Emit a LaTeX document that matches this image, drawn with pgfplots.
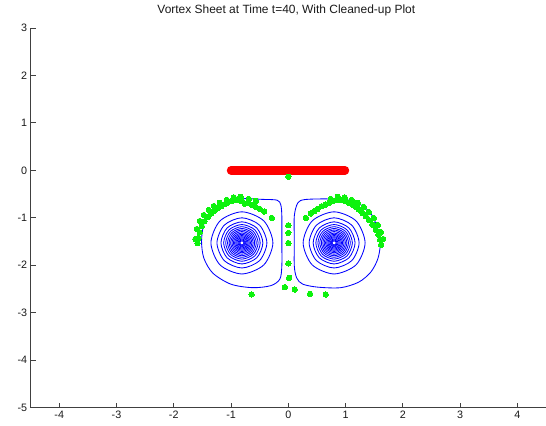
\documentclass[border=0pt]{standalone}
\usepackage{pgfplots}
\pgfplotsset{compat=1.18}
\usepackage{fontspec}
\setmainfont{Liberation Sans}
\definecolor{mred}{rgb}{1,0,0}
\definecolor{mgreen}{rgb}{0.05,0.95,0.05}
\definecolor{mblue}{rgb}{0,0,1}
% #1 cx, #2 x right, #3 x left, #4 x diag right, #5 x diag left, #6 y top, #7 y bottom, #8 y diag up, #9 y diag down
\newcommand\ring[9]{\addplot[mblue, line width=0.85bp, smooth cycle] coordinates {(#2,-1.53) (#4,#8) (#1,#6) (#5,#8) (#3,-1.53) (#5,#9) (#1,#7) (#4,#9)};}
\begin{document}
\begin{tikzpicture}
\useasboundingbox (0,0) rectangle (546bp,426bp);
\begin{axis}[
  at={(30.6bp,18.5bp)}, anchor=south west, scale only axis,
  width=515.4bp, height=379.5bp,
  xmin=-4.5, xmax=4.5, ymin=-5, ymax=3,
  axis x line*=bottom, axis y line*=left,
  axis line style={black!75, line width=0.9bp, -},
  xtick={-4,-3,-2,-1,0,1,2,3,4}, ytick={-5,-4,-3,-2,-1,0,1,2,3},
  tick align=inside, major tick length=5bp,
  tick style={black!75, line width=0.9bp},
  ticklabel style={font=\fontsize{10.8}{12}\selectfont, text=black!90},
  /pgf/number format/assume math mode=true,
  title={Vortex Sheet at Time t=40, With Cleaned-up Plot},
  title style={font=\fontsize{12}{14}\selectfont, text=black!90, at={(0.5,1)}, anchor=base, yshift=8.8bp, xshift=-2bp},
]
% outer contours
\addplot[mblue, line width=0.85bp, smooth cycle, tension=0.5] coordinates {
(-0.834,-0.603) (-0.445,-0.613) (-0.195,-0.630) (-0.131,-0.729) (-0.113,-0.962)
(-0.113,-1.490) (-0.113,-2.019) (-0.148,-2.294) (-0.305,-2.431) (-0.625,-2.474)
(-1.003,-2.400) (-1.318,-2.167) (-1.475,-1.850) (-1.515,-1.490) (-1.475,-1.131)
(-1.370,-0.899) (-1.178,-0.729)};
\addplot[mblue, line width=0.85bp, smooth cycle, tension=0.5] coordinates {
(0.166,-0.687) (0.288,-0.617) (0.654,-0.603) (1.038,-0.624) (1.300,-0.751)
(1.457,-0.941) (1.562,-1.237) (1.606,-1.554) (1.562,-1.871) (1.440,-2.146)
(1.230,-2.357) (0.916,-2.474) (0.515,-2.463) (0.253,-2.400) (0.148,-2.273)
(0.105,-2.019) (0.105,-1.490) (0.105,-0.962)};
% left vortex rings
\ring{-0.81}{-0.269}{-1.351}{-0.427}{-1.193}{-0.875}{-2.185}{-1.067}{-1.993}
\ring{-0.81}{-0.374}{-1.246}{-0.502}{-1.118}{-1.001}{-2.059}{-1.156}{-1.904}
\ring{-0.81}{-0.444}{-1.176}{-0.551}{-1.069}{-1.086}{-1.974}{-1.216}{-1.844}
\ring{-0.81}{-0.491}{-1.129}{-0.584}{-1.036}{-1.143}{-1.917}{-1.256}{-1.804}
\ring{-0.81}{-0.527}{-1.093}{-0.610}{-1.010}{-1.188}{-1.872}{-1.288}{-1.772}
\ring{-0.81}{-0.559}{-1.061}{-0.632}{-0.988}{-1.226}{-1.834}{-1.315}{-1.745}
\ring{-0.81}{-0.587}{-1.033}{-0.652}{-0.968}{-1.259}{-1.801}{-1.338}{-1.722}
\ring{-0.81}{-0.613}{-1.007}{-0.671}{-0.949}{-1.291}{-1.769}{-1.361}{-1.699}
\ring{-0.81}{-0.637}{-0.983}{-0.688}{-0.932}{-1.321}{-1.739}{-1.382}{-1.678}
\ring{-0.81}{-0.660}{-0.960}{-0.704}{-0.916}{-1.348}{-1.712}{-1.401}{-1.659}
\ring{-0.81}{-0.681}{-0.939}{-0.719}{-0.901}{-1.374}{-1.686}{-1.420}{-1.640}
\ring{-0.81}{-0.702}{-0.918}{-0.734}{-0.886}{-1.399}{-1.661}{-1.437}{-1.623}
\ring{-0.81}{-0.721}{-0.899}{-0.747}{-0.873}{-1.422}{-1.638}{-1.454}{-1.606}
\ring{-0.81}{-0.740}{-0.880}{-0.760}{-0.860}{-1.445}{-1.615}{-1.470}{-1.590}
\ring{-0.81}{-0.758}{-0.862}{-0.773}{-0.847}{-1.467}{-1.593}{-1.485}{-1.575}
\ring{-0.81}{-0.775}{-0.845}{-0.785}{-0.835}{-1.488}{-1.572}{-1.500}{-1.560}
% right vortex rings
\ring{0.80}{1.341}{0.259}{1.183}{0.417}{-0.875}{-2.185}{-1.067}{-1.993}
\ring{0.80}{1.236}{0.364}{1.108}{0.492}{-1.001}{-2.059}{-1.156}{-1.904}
\ring{0.80}{1.166}{0.434}{1.059}{0.541}{-1.086}{-1.974}{-1.216}{-1.844}
\ring{0.80}{1.119}{0.481}{1.026}{0.574}{-1.143}{-1.917}{-1.256}{-1.804}
\ring{0.80}{1.083}{0.517}{1.000}{0.600}{-1.188}{-1.872}{-1.288}{-1.772}
\ring{0.80}{1.051}{0.549}{0.978}{0.622}{-1.226}{-1.834}{-1.315}{-1.745}
\ring{0.80}{1.023}{0.577}{0.958}{0.642}{-1.259}{-1.801}{-1.338}{-1.722}
\ring{0.80}{0.997}{0.603}{0.939}{0.661}{-1.291}{-1.769}{-1.361}{-1.699}
\ring{0.80}{0.973}{0.627}{0.922}{0.678}{-1.321}{-1.739}{-1.382}{-1.678}
\ring{0.80}{0.950}{0.650}{0.906}{0.694}{-1.348}{-1.712}{-1.401}{-1.659}
\ring{0.80}{0.929}{0.671}{0.891}{0.709}{-1.374}{-1.686}{-1.420}{-1.640}
\ring{0.80}{0.908}{0.692}{0.876}{0.724}{-1.399}{-1.661}{-1.437}{-1.623}
\ring{0.80}{0.889}{0.711}{0.863}{0.737}{-1.422}{-1.638}{-1.454}{-1.606}
\ring{0.80}{0.870}{0.730}{0.850}{0.750}{-1.445}{-1.615}{-1.470}{-1.590}
\ring{0.80}{0.852}{0.748}{0.837}{0.763}{-1.467}{-1.593}{-1.485}{-1.575}
\ring{0.80}{0.835}{0.765}{0.825}{0.775}{-1.488}{-1.572}{-1.500}{-1.560}
% green points
\addplot[only marks, mark=*, mark size=2.7bp, mark options={fill=mgreen, draw=mgreen, line width=0pt}] coordinates {
(0.0,-0.137) (0.0,-1.159) (0.0,-1.321) (0.0,-1.533) (0.0,-1.962) (0.014,-2.266)
(-0.061,-2.463) (0.113,-2.512) (-0.642,-2.617) (0.380,-2.605) (0.654,-2.617)
(-1.585,-1.533) (-1.567,-1.427) (-1.545,-1.307) (-1.510,-1.180) (-1.462,-1.074)
(-1.405,-0.983) (-1.347,-0.913) (-1.288,-0.850) (-1.230,-0.799) (-1.173,-0.757)
(-1.113,-0.715) (-1.056,-0.681) (-0.998,-0.651) (-0.939,-0.624) (-0.881,-0.617)
(-0.824,-0.651) (-0.764,-0.702) (-0.695,-0.687) (-0.637,-0.729) (-0.567,-0.772)
(-0.497,-0.814) (-0.422,-0.871) (-0.288,-1.004)
(-1.623,-1.448) (-1.597,-1.237) (-1.545,-1.068) (-1.475,-0.941) (-1.387,-0.835)
(-1.300,-0.751) (-1.195,-0.687) (-1.073,-0.624) (-0.951,-0.571) (-0.829,-0.560)
(-0.689,-0.603) (-0.567,-0.645)
(0.305,-1.004) (0.393,-0.913) (0.450,-0.863) (0.510,-0.814) (0.585,-0.757)
(0.654,-0.723) (0.712,-0.687) (0.771,-0.651) (0.829,-0.630) (0.887,-0.617)
(0.946,-0.630) (1.003,-0.651) (1.061,-0.687) (1.120,-0.729) (1.178,-0.772)
(1.236,-0.829) (1.295,-0.899) (1.353,-0.968) (1.410,-1.053) (1.469,-1.146)
(1.527,-1.252) (1.574,-1.357) (1.602,-1.463) (1.620,-1.569)
(0.742,-0.603) (0.864,-0.560) (0.986,-0.571) (1.108,-0.624) (1.213,-0.687)
(1.318,-0.772) (1.405,-0.877) (1.492,-1.004) (1.562,-1.152) (1.614,-1.300)
(1.658,-1.448)};
% red vortex sheet
\addplot[mred, line width=8.5bp, line cap=round] coordinates {(-1.0,0.0) (0.99,0.0)};
\end{axis}
\end{tikzpicture}
\end{document}
